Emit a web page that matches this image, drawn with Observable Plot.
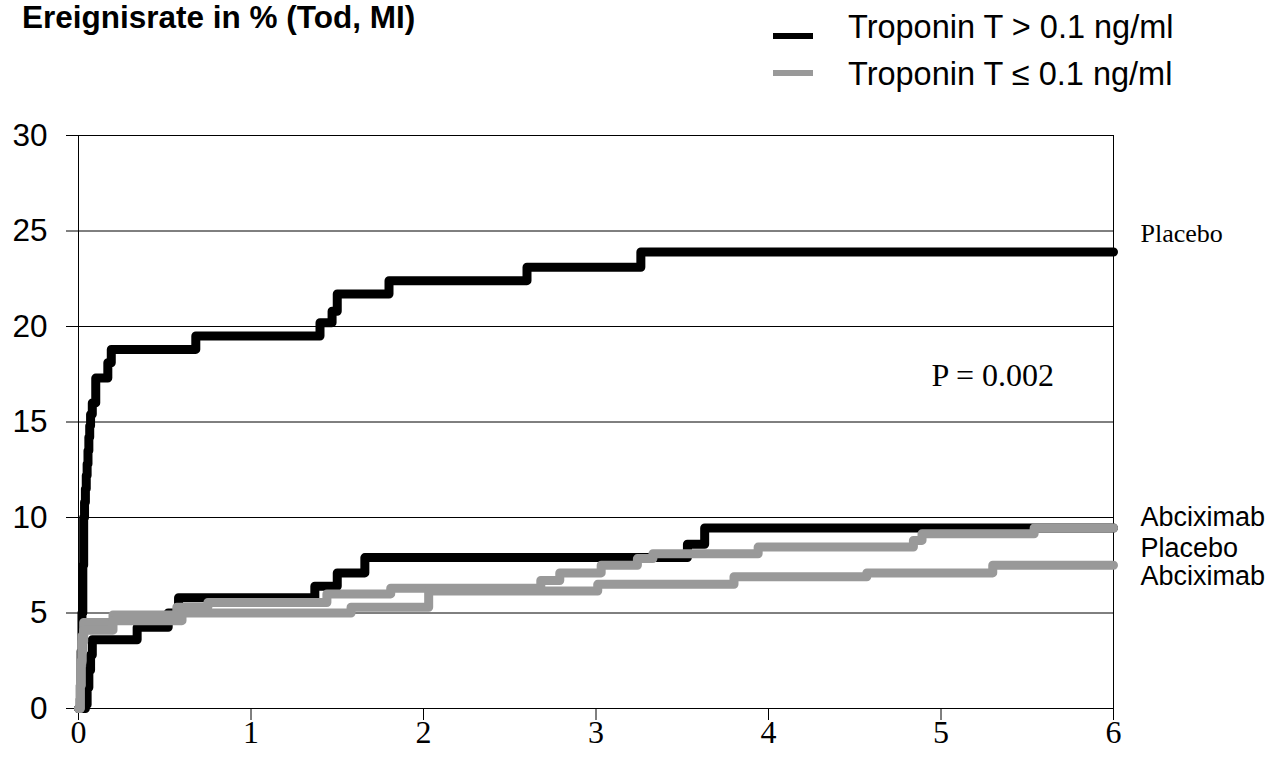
<!DOCTYPE html>
<html>
<head>
<meta charset="utf-8">
<script src="https://cdn.jsdelivr.net/npm/d3@7"></script>
<script src="https://cdn.jsdelivr.net/npm/@observablehq/plot@0.6"></script>
<style>
  html, body { margin: 0; padding: 0; background: #fff; }
  #page { position: relative; width: 1282px; height: 766px; overflow: hidden; }
  #header { position: relative; width: 1282px; height: 110px; }
  .title { position: absolute; left: 22px; top: -1px; font: bold 31.5px "Liberation Sans", Arial, sans-serif; color: #000; white-space: nowrap; line-height: 36px; }
  .leg { position: absolute; left: 848px; font: 32.5px "Liberation Sans", Arial, sans-serif; color: #000; white-space: nowrap; line-height: 38px; }
  .sw { position: absolute; left: 773px; width: 40px; height: 6px; }
</style>
</head>
<body>
<div id="page">
  <div id="header">
    <div class="title">Ereignisrate in % (Tod, MI)</div>
    <div class="sw" style="top:33px;background:#000"></div>
    <div class="leg" style="top:8px">Troponin T &gt; 0.1 ng/ml</div>
    <div class="sw" style="top:70px;background:#999"></div>
    <div class="leg" style="top:55px">Troponin T ≤ 0.1 ng/ml</div>
  </div>
  <div id="chart"></div>
</div>
<script>
// Tick labels
const xTicks = [0, 1, 2, 3, 4, 5, 6];
const yTicks = [0, 5, 10, 15, 20, 25, 30];

// Troponin T > 0.1 ng/ml, Placebo
const hiPlaceboT = [0, 0.01, 0.015, 0.02, 0.025, 0.03, 0.035, 0.04, 0.045, 0.05, 0.055, 0.06, 0.065, 0.07, 0.08, 0.1, 0.17, 0.19, 0.68, 1.40, 1.47, 1.50, 1.80, 2.60, 3.26, 6];
const hiPlaceboV = [0, 0.5, 3, 5, 7.5, 10, 10.8, 11.5, 12.2, 12.8, 13.5, 14.2, 14.8, 15.4, 16, 17.3, 18.1, 18.8, 19.5, 20.2, 20.8, 21.7, 22.4, 23.1, 23.9, 23.9];

// Troponin T > 0.1 ng/ml, Abciximab
const hiAbcixT = [0, 0.04, 0.05, 0.06, 0.07, 0.08, 0.34, 0.52, 0.58, 1.37, 1.50, 1.66, 3.53, 3.63, 6];
const hiAbcixV = [0, 0.2, 1.1, 2.0, 2.8, 3.6, 4.25, 5.0, 5.8, 6.4, 7.1, 7.9, 8.6, 9.45, 9.45];

// Troponin T <= 0.1 ng/ml, Placebo
const loPlaceboT = [0, 0.01, 0.015, 0.02, 0.03, 0.2, 0.57, 0.75, 1.44, 1.81, 2.68, 2.79, 3.03, 3.24, 3.33, 3.94, 4.84, 4.89, 5.54, 6];
const loPlaceboV = [0, 1.2, 2.5, 3.8, 4.5, 4.9, 5.3, 5.55, 6.0, 6.3, 6.7, 7.1, 7.5, 7.85, 8.1, 8.45, 8.8, 9.15, 9.45, 9.45];

// Troponin T <= 0.1 ng/ml, Abciximab
const loAbcixT = [0, 0.01, 0.015, 0.02, 0.03, 0.2, 0.6, 1.58, 2.03, 3.01, 3.8, 4.57, 5.3, 6];
const loAbcixV = [0, 1.2, 2.4, 3.5, 4.1, 4.6, 5.0, 5.3, 6.15, 6.5, 6.9, 7.1, 7.5, 7.5];

const seriesNames = ["hiPlacebo", "hiAbcix", "loPlacebo", "loAbcix"];
const seriesGroups = ["Troponin T > 0.1 ng/ml", "Troponin T > 0.1 ng/ml", "Troponin T ≤ 0.1 ng/ml", "Troponin T ≤ 0.1 ng/ml"];
const endLabels = ["Placebo", "Abciximab", "Placebo", "Abciximab"];
const pText = ["P = 0.002"];

const series = [
  [hiPlaceboT, hiPlaceboV],
  [hiAbcixT, hiAbcixV],
  [loPlaceboT, loPlaceboV],
  [loAbcixT, loAbcixV]
];

const rows = [];
series.forEach(([ts, vs], i) => {
  ts.forEach((t, j) => rows.push({ t, v: vs[j], s: seriesNames[i], g: seriesGroups[i] }));
});
const blackRows = rows.filter(d => d.g === seriesGroups[0]);
const greyRows = rows.filter(d => d.g === seriesGroups[2]);

const ends = series.map(([ts, vs], i) => ({ t: ts[ts.length - 1], v: vs[vs.length - 1], label: endLabels[i], i }));
const labelDy = [-18, -11, 20, 11];
const labelFont = ["Liberation Serif", "Liberation Sans", "Liberation Sans", "Liberation Sans"];
const labelSize = [26, 27, 27, 27];

const lineOpts = {
  x: "t", y: "v", z: "s",
  curve: "step-after",
  strokeWidth: 9,
  strokeLinejoin: "round",
  strokeLinecap: "round"
};

const chart = Plot.plot({
  width: 1282,
  height: 656,
  marginLeft: 78,
  marginRight: 169,
  marginTop: 25,
  marginBottom: 58,
  style: { fontFamily: "Liberation Sans, Arial, sans-serif", background: "#fff", color: "#000", overflow: "visible" },
  x: { domain: [0, 6], label: null },
  y: { domain: [0, 30], label: null },
  marks: [
    Plot.ruleY(yTicks.filter(d => d > 0), { stroke: "#000", strokeWidth: 1 }),
    Plot.frame({ stroke: "#000", strokeWidth: 1 }),
    Plot.axisY({ ticks: yTicks, tickSize: 12, tickPadding: 19, fontSize: 31.5, fontFamily: "Liberation Sans, Arial, sans-serif", tickFormat: d => String(d), label: null }),
    Plot.axisX({ ticks: xTicks, tickSize: 12, tickPadding: 0, fontSize: 32, fontFamily: "Liberation Serif, Times New Roman, serif", tickFormat: d => String(d), label: null }),
    Plot.line(blackRows, { ...lineOpts, stroke: "#000" }),
    Plot.line(greyRows, { ...lineOpts, stroke: "#999999" }),
    ...ends.map(e => Plot.text([e], {
      x: "t", y: "v", text: "label",
      dx: 27, dy: labelDy[e.i],
      textAnchor: "start", lineAnchor: "middle",
      fontSize: labelSize[e.i], fontFamily: labelFont[e.i], fill: "#000", clip: false
    })),
    Plot.text(pText, {
      x: 5.3, y: 17.4,
      textAnchor: "middle", lineAnchor: "middle",
      fontSize: 32, fontFamily: "Liberation Serif, Times New Roman, serif", fill: "#000"
    })
  ]
});
document.getElementById("chart").appendChild(chart);
</script>
</body>
</html>
